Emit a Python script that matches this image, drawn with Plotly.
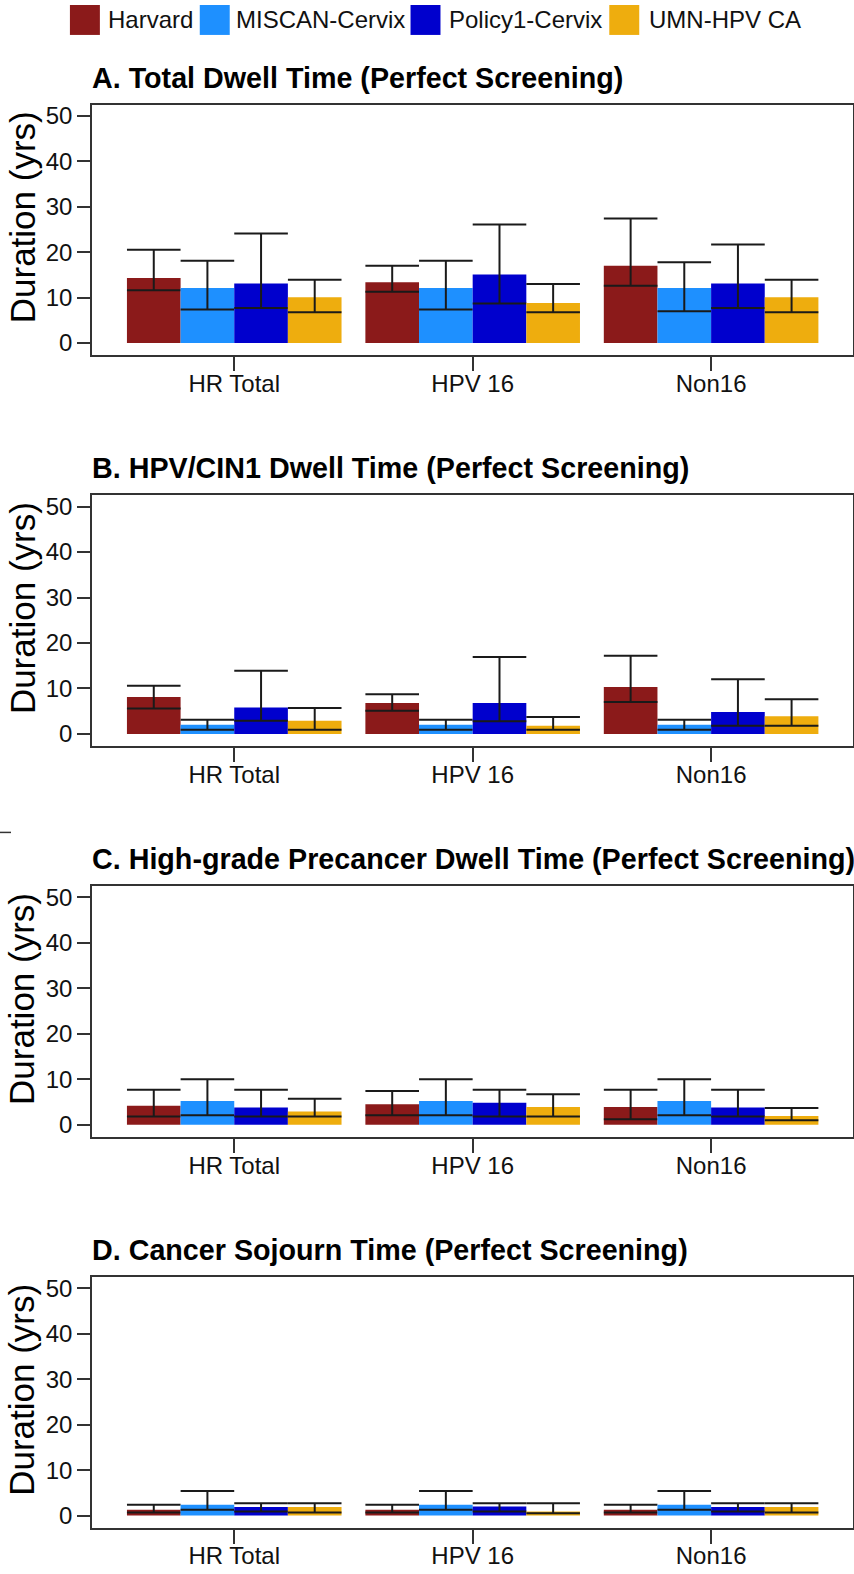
import numpy as np
import plotly.graph_objects as go

# ---- data -------------------------------------------------------------
categories = ["HR Total", "HPV 16", "Non16"]
models = ["Harvard", "MISCAN-Cervix", "Policy1-Cervix", "UMN-HPV CA"]
colors = ["#8B1A1A", "#1E90FF", "#0000CD", "#EEAD0E"]

panel_titles = [
    "A. Total Dwell Time (Perfect Screening)",
    "B. HPV/CIN1 Dwell Time (Perfect Screening)",
    "C. High-grade Precancer Dwell Time (Perfect Screening)",
    "D. Cancer Sojourn Time (Perfect Screening)",
]

# Panel A: total dwell time (mean, lower, upper) per model across categories
a_mean = {"Harvard": [14.3, 13.4, 17.0], "MISCAN-Cervix": [12.1, 12.1, 12.1],
          "Policy1-Cervix": [13.1, 15.1, 13.1], "UMN-HPV CA": [10.1, 8.8, 10.1]}
a_low = {"Harvard": [11.6, 11.3, 12.6], "MISCAN-Cervix": [7.4, 7.4, 7.0],
         "Policy1-Cervix": [7.7, 8.7, 7.7], "UMN-HPV CA": [6.8, 6.8, 6.8]}
a_high = {"Harvard": [20.5, 17.0, 27.4], "MISCAN-Cervix": [18.1, 18.1, 17.8],
          "Policy1-Cervix": [24.1, 26.1, 21.7], "UMN-HPV CA": [13.9, 13.0, 13.9]}

# Panel B: HPV/CIN1 dwell time
b_mean = {"Harvard": [8.1, 6.8, 10.3], "MISCAN-Cervix": [2.0, 2.0, 2.0],
          "Policy1-Cervix": [5.8, 6.8, 4.8], "UMN-HPV CA": [2.9, 1.8, 3.9]}
b_low = {"Harvard": [5.6, 5.1, 7.0], "MISCAN-Cervix": [0.9, 0.9, 0.9],
         "Policy1-Cervix": [2.9, 2.8, 1.8], "UMN-HPV CA": [0.9, 0.9, 1.8]}
b_high = {"Harvard": [10.6, 8.7, 17.2], "MISCAN-Cervix": [3.1, 3.1, 3.1],
          "Policy1-Cervix": [13.9, 16.9, 12.0], "UMN-HPV CA": [5.7, 3.7, 7.6]}

# Panel C: high-grade precancer dwell time
c_mean = {"Harvard": [4.2, 4.5, 3.9], "MISCAN-Cervix": [5.2, 5.2, 5.2],
          "Policy1-Cervix": [3.8, 4.85, 3.8], "UMN-HPV CA": [2.9, 3.9, 1.9]}
c_low = {"Harvard": [1.8, 2.1, 1.2], "MISCAN-Cervix": [2.1, 2.1, 2.1],
         "Policy1-Cervix": [1.8, 1.8, 1.8], "UMN-HPV CA": [1.8, 1.8, 1.0]}
c_high = {"Harvard": [7.7, 7.4, 7.7], "MISCAN-Cervix": [10.0, 10.0, 10.0],
          "Policy1-Cervix": [7.7, 7.7, 7.7], "UMN-HPV CA": [5.7, 6.7, 3.7]}

# Panel D: cancer sojourn time
d_mean = {"Harvard": [1.3, 1.3, 1.3], "MISCAN-Cervix": [2.4, 2.4, 2.4],
          "Policy1-Cervix": [1.9, 2.0, 1.9], "UMN-HPV CA": [1.9, 0.9, 1.9]}
d_low = {"Harvard": [0.7, 0.7, 0.7], "MISCAN-Cervix": [1.3, 1.3, 1.3],
         "Policy1-Cervix": [0.9, 0.9, 0.9], "UMN-HPV CA": [0.7, 0.5, 0.7]}
d_high = {"Harvard": [2.4, 2.4, 2.4], "MISCAN-Cervix": [5.4, 5.4, 5.4],
          "Policy1-Cervix": [2.7, 2.7, 2.7], "UMN-HPV CA": [2.7, 2.7, 2.7]}

panels = [(a_mean, a_low, a_high), (b_mean, b_low, b_high),
          (c_mean, c_low, c_high), (d_mean, d_low, d_high)]

y_ticks = [0, 10, 20, 30, 40, 50]

# ---- layout geometry (pixels) ------------------------------------------
W, H = 854, 1574
FONT = "Liberation Sans, Arial, sans-serif"
AXIS_COLOR = "#333333"
box_left, box_right = 92, 853.5
box_tops = [102.7, 494.3, 885.9, 1277.5]
box_height = 251.3


def py(pix):
    return 1 - pix / H


fig = go.Figure()
layout = dict(
    width=W, height=H,
    margin=dict(l=0, r=0, t=0, b=0),
    paper_bgcolor="white", plot_bgcolor="white",
    barmode="group", bargap=0.1, bargroupgap=0,
    showlegend=False,
    font=dict(family=FONT, color="#111111"),
)

annotations = []
shapes = []

for p, (mean, low, high) in enumerate(panels):
    xa = "x" if p == 0 else f"x{p + 1}"
    ya = "y" if p == 0 else f"y{p + 1}"
    for m, col in zip(models, colors):
        mu = np.array(mean[m])
        lo = np.array(low[m])
        hi = np.array(high[m])
        fig.add_trace(go.Bar(
            x=categories, y=mu, name=m,
            marker=dict(color=col, line=dict(width=0)),
            error_y=dict(type="data", symmetric=False,
                         array=hi - mu, arrayminus=mu - lo,
                         color="#1a1a1a", thickness=2, width=26.8),
            xaxis=xa, yaxis=ya,
        ))

    top = box_tops[p]
    bottom = top + box_height
    dom_y = [py(bottom), py(top)]
    xkey = "xaxis" if p == 0 else f"xaxis{p + 1}"
    ykey = "yaxis" if p == 0 else f"yaxis{p + 1}"
    layout[xkey] = dict(
        domain=[box_left / W, box_right / W], anchor=ya,
        type="category", categoryorder="array", categoryarray=categories,
        range=[-0.597, 2.593],
        showline=True, mirror=True, linecolor=AXIS_COLOR, linewidth=1.5,
        ticks="outside", ticklen=14, tickwidth=1.5, tickcolor=AXIS_COLOR,
        ticklabelstandoff=-8,
        tickfont=dict(size=24, family=FONT, color="#111111"),
        showgrid=False, zeroline=False, fixedrange=True,
    )
    layout[ykey] = dict(
        domain=dom_y, anchor=xa,
        range=[-2.7, 52.48], tickmode="array", tickvals=y_ticks,
        showline=True, mirror=True, linecolor=AXIS_COLOR, linewidth=1.5,
        ticks="outside", ticklen=13, tickwidth=1.5, tickcolor=AXIS_COLOR,
        tickfont=dict(size=24, family=FONT, color="#111111"),
        showgrid=False, zeroline=False, fixedrange=True,
    )

    # panel heading
    annotations.append(dict(
        text=f"<b>{panel_titles[p]}</b>", xref="paper", yref="paper",
        x=90 / W, y=py(top - 27), xanchor="left", yanchor="middle",
        showarrow=False, font=dict(size=28.7, family=FONT, color="#000000"),
    ))
    # y-axis label
    annotations.append(dict(
        text="Duration (yrs)", xref="paper", yref="paper",
        x=22 / W, y=py(top + 113), xanchor="center", yanchor="middle",
        textangle=-90, showarrow=False,
        font=dict(size=35, family=FONT, color="#000000"),
    ))

# legend drawn as swatches + labels across the top
legend_swatch_x = [70, 200, 411, 610]
legend_text_x = [106, 234, 448, 648]
for m, col, sx, tx in zip(models, colors, legend_swatch_x, legend_text_x):
    shapes.append(dict(type="rect", xref="paper", yref="paper",
                       x0=sx / W, x1=(sx + 30) / W, y0=py(33), y1=py(3),
                       fillcolor=col, line=dict(width=0)))
    annotations.append(dict(
        text=m, xref="paper", yref="paper", x=tx / W, y=py(18),
        xanchor="left", yanchor="middle", showarrow=False,
        font=dict(size=24, family=FONT, color="#111111"),
    ))

# short stray tick at the left margin between panels B and C
shapes.append(dict(type="line", xref="paper", yref="paper",
                   x0=0, x1=11 / W, y0=py(832), y1=py(832),
                   line=dict(color=AXIS_COLOR, width=1.5)))

layout["annotations"] = annotations
layout["shapes"] = shapes
fig.update_layout(**layout)

fig.write_html("out.html")
